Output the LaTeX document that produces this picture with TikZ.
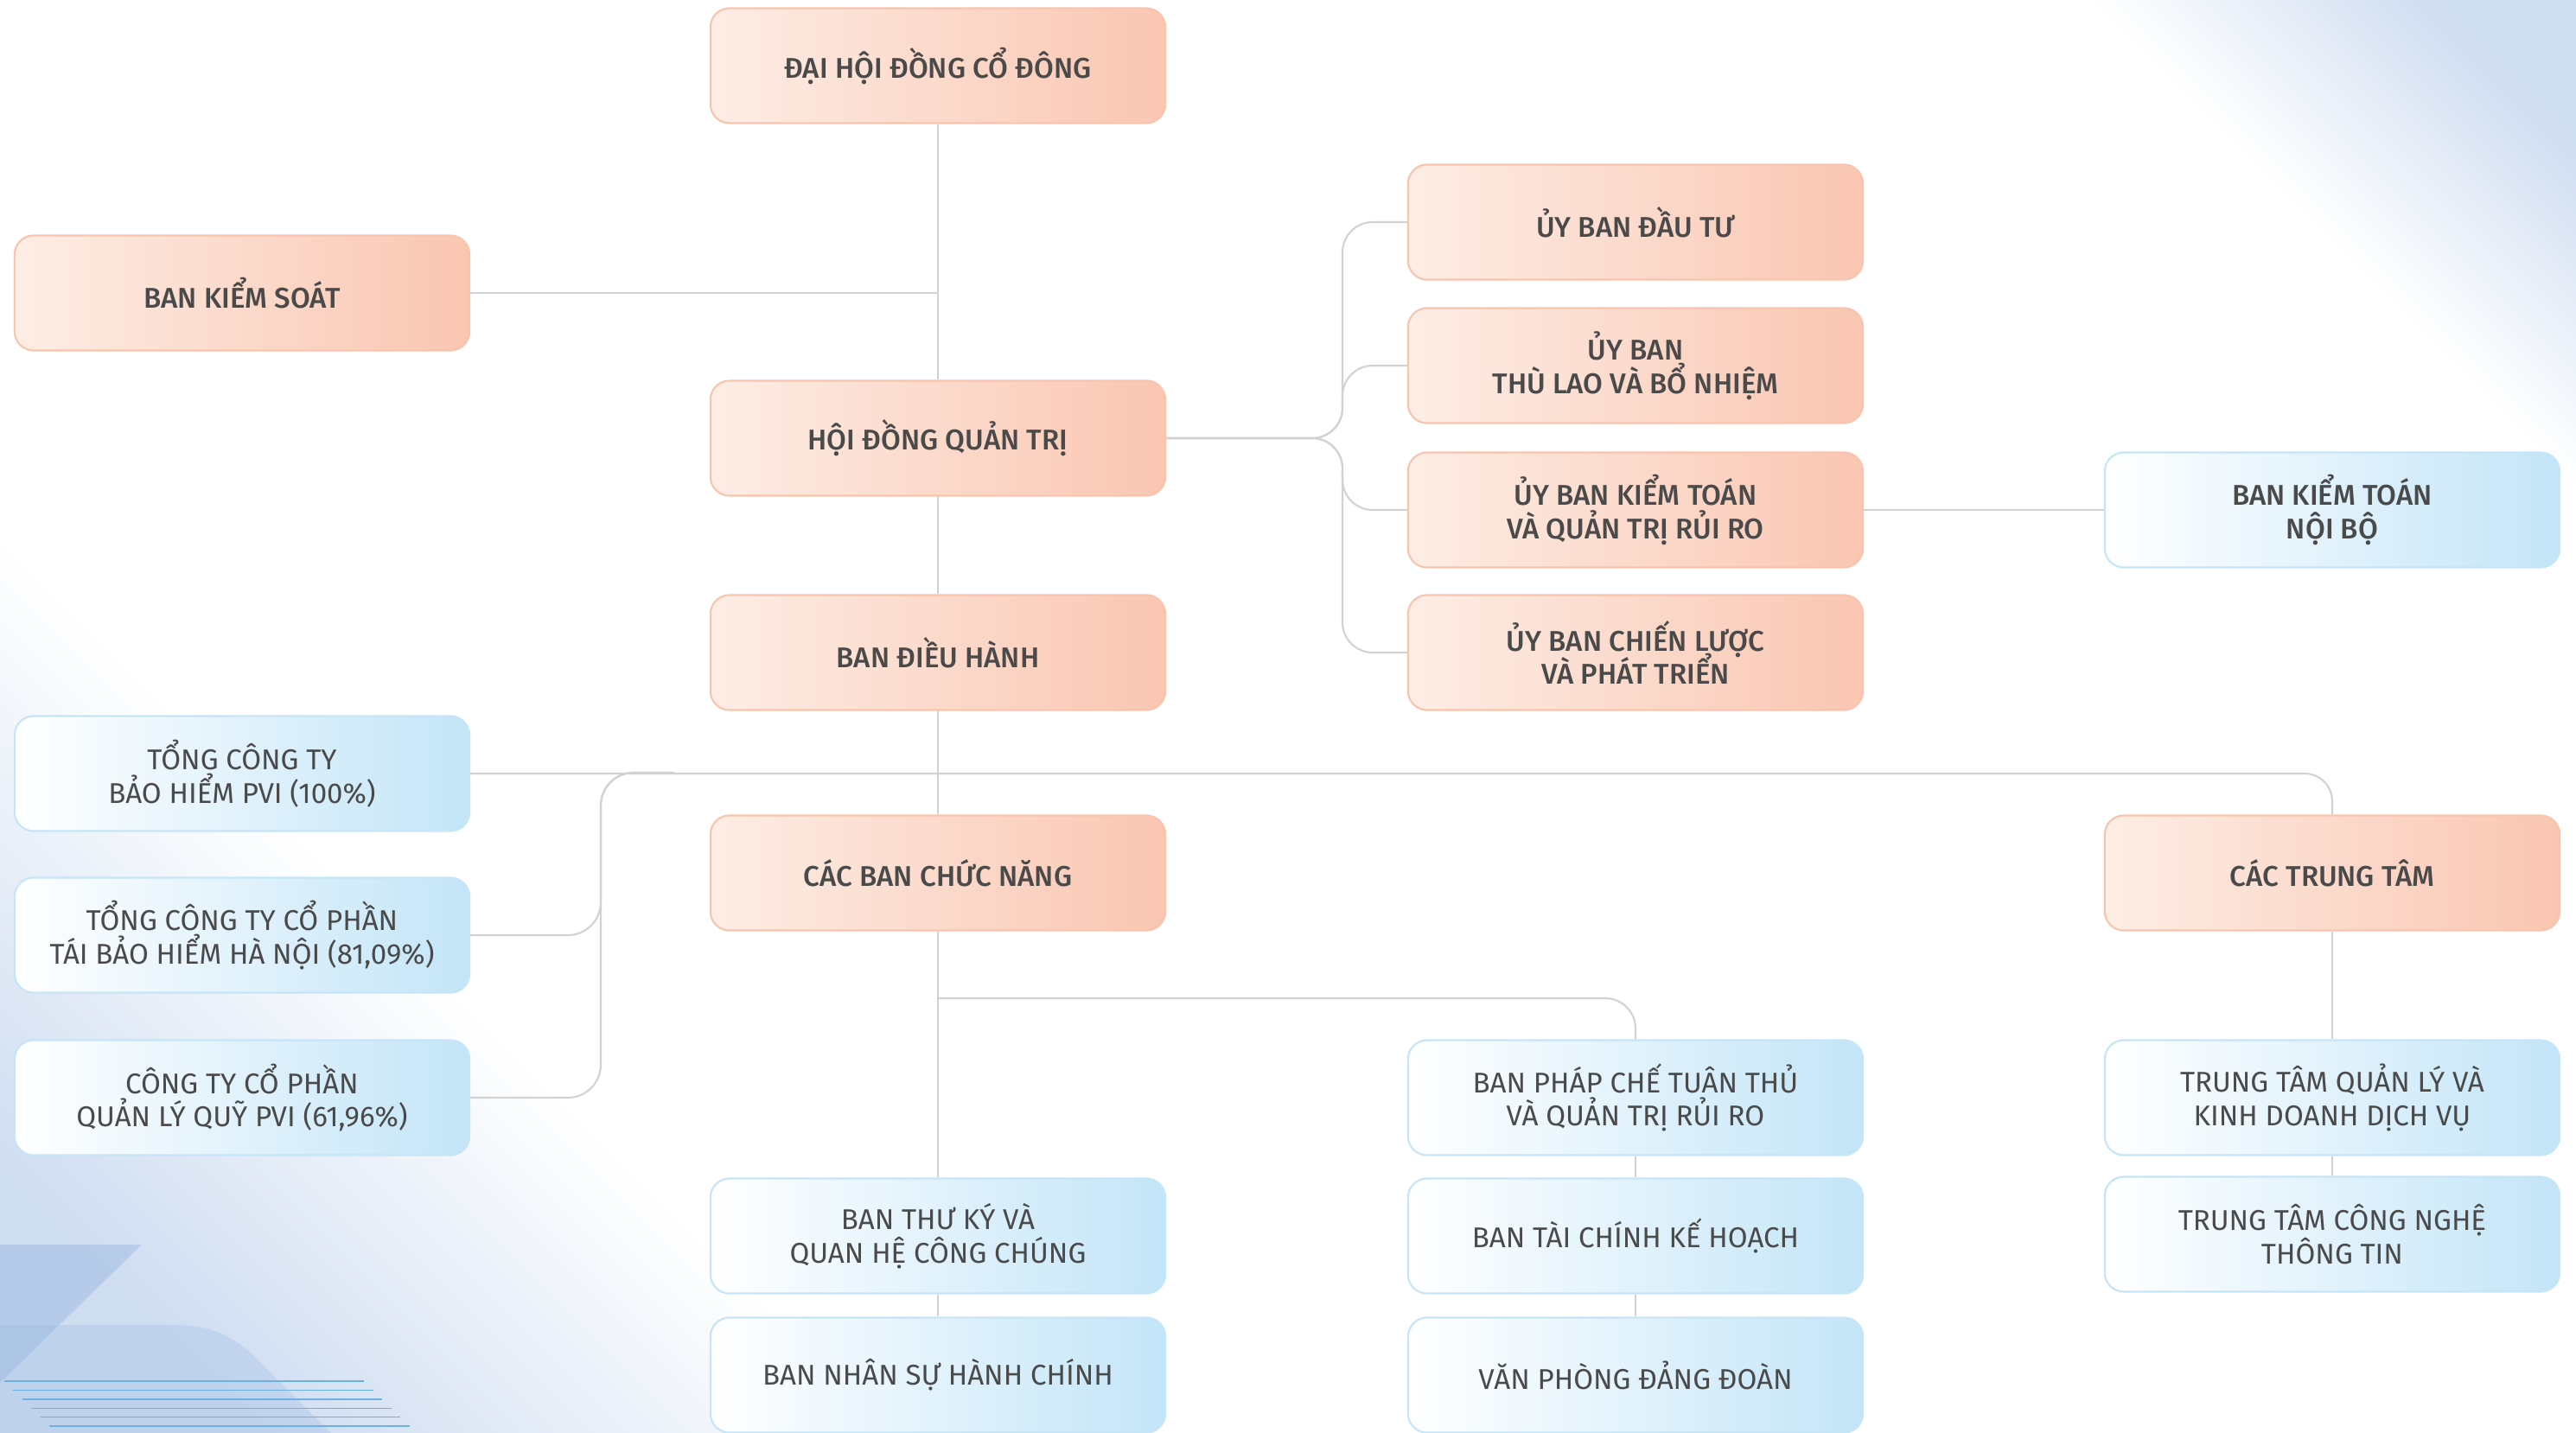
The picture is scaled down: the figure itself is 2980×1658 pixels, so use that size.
\documentclass[tikz,border=0pt]{standalone}
\usepackage{fontspec}
\setmainfont{Fira Sans}[BoldFont={Fira Sans Medium}]
\usetikzlibrary{positioning}
\definecolor{txtgray}{HTML}{4A4A4A}
\definecolor{linegray}{HTML}{D2D2D2}
\definecolor{orgL}{HTML}{FDEDE5}
\definecolor{orgR}{HTML}{FAC6B2}
\definecolor{orgB}{HTML}{F8C4AE}
\definecolor{bluL}{HTML}{FFFFFF}
\definecolor{bluR}{HTML}{C3E5F8}
\definecolor{bluB}{HTML}{C6E5F7}
\definecolor{bgblue}{HTML}{CFDDF1}
\definecolor{decoblue}{HTML}{9DBBE2}
\definecolor{stripe}{HTML}{6DB0E2}
\newcommand{\boxfont}{\fontsize{9.4}{11}\selectfont\lineskiplimit=-10pt\relax}
\tikzset{
  box/.style={rectangle, rounded corners=0.22cm, minimum width=5.26cm,
    minimum height=1.33cm, align=center, text=txtgray, line width=0.6pt,
    inner sep=2pt, font=\boxfont},
  orgbox/.style={box, draw=orgB, left color=orgL, right color=orgR,
    font=\boxfont\bfseries},
  bluebox/.style={box, draw=bluB, left color=bluL, right color=bluR},
  link/.style={draw=linegray, line width=0.6pt},
}
\begin{document}
\begin{tikzpicture}[x=0.01cm, y=-0.01cm]
      \useasboundingbox (0,0) rectangle (2980,1658);
      \fill[white] (0,0) rectangle (2980,1658);
      \shade[top color=bgblue, bottom color=white, middle color=white, shading angle=-45]
        (2415,0) -- (2980,0) -- (2980,565) -- cycle;
      \shade[top color=white, bottom color=bgblue, middle color=white, shading angle=-45]
        (0,620) -- (0,1658) -- (1038,1658) -- cycle;
      \fill[decoblue, opacity=0.5] (0,1440) -- (164,1440) -- (0,1600) -- cycle;
      \fill[decoblue, opacity=0.3] (0,1533) -- (200,1533)
        .. controls (245,1533) and (270,1545) .. (300,1575) -- (383,1658) -- (0,1658) -- cycle;
      \foreach \i in {0,...,5}
        \draw[stripe, line width=0.4pt] (5+10.4*\i,1598+10.4*\i) -- (421+10.6*\i,1598+10.4*\i);
      \draw
        (1085,76) node[orgbox] (dhdcd) {ĐẠI HỘI ĐỒNG CỔ ĐÔNG}
        (280,339) node[orgbox] (bks) {BAN KIỂM SOÁT}
        (1085,507) node[orgbox] (hdqt) {HỘI ĐỒNG QUẢN TRỊ}
        (1085,755) node[orgbox] (bdh) {BAN ĐIỀU HÀNH}
        (1085,1010) node[orgbox] (cbcn) {CÁC BAN CHỨC NĂNG}
        (1892,257) node[orgbox] (ubdt) {ỦY BAN ĐẦU TƯ}
        (1892,423) node[orgbox] (ubtl) {ỦY BAN\\THÙ LAO VÀ BỔ NHIỆM}
        (1892,590) node[orgbox] (ubkt) {ỦY BAN KIỂM TOÁN\\VÀ QUẢN TRỊ RỦI RO}
        (1892,755) node[orgbox] (ubcl) {ỦY BAN CHIẾN LƯỢC\\VÀ PHÁT TRIỂN}
        (2698,590) node[bluebox, font=\boxfont\bfseries] (bktnb) {BAN KIỂM TOÁN\\NỘI BỘ}
        (2698,1010) node[orgbox] (ctt) {CÁC TRUNG TÂM}
        (280,895) node[bluebox] (pvi) {TỔNG CÔNG TY\\BẢO HIỂM PVI (100\%)}
        (280,1082) node[bluebox] (taibh) {TỔNG CÔNG TY CỔ PHẦN\\TÁI BẢO HIỂM HÀ NỘI (81,09\%)}
        (280,1270) node[bluebox] (quy) {CÔNG TY CỔ PHẦN\\QUẢN LÝ QUỸ PVI (61,96\%)}
        (1892,1270) node[bluebox] (bpc) {BAN PHÁP CHẾ TUÂN THỦ\\VÀ QUẢN TRỊ RỦI RO}
        (1892,1430) node[bluebox] (btckh) {BAN TÀI CHÍNH KẾ HOẠCH}
        (1892,1591) node[bluebox] (vpdd) {VĂN PHÒNG ĐẢNG ĐOÀN}
        (1085,1430) node[bluebox] (btk) {BAN THƯ KÝ VÀ\\QUAN HỆ CÔNG CHÚNG}
        (1085,1591) node[bluebox] (bnshc) {BAN NHÂN SỰ HÀNH CHÍNH}
        (2698,1270) node[bluebox] (ttql) {TRUNG TÂM QUẢN LÝ VÀ\\KINH DOANH DỊCH VỤ}
        (2698,1428) node[bluebox] (ttcn) {TRUNG TÂM CÔNG NGHỆ\\THÔNG TIN};
      \coordinate (hb) at (1553,507);
      \coordinate (lb) at (695,894);
      \coordinate (gj) at (780,894);
      \coordinate (cj) at (1085,1155);
      \begin{scope}[link]
        \draw (dhdcd) to (hdqt);
        \draw (hdqt) to (bdh);
        \draw (bdh) to (cbcn);
        \draw (cbcn) to (btk);
        \draw (btk) to (bnshc);
        \draw (bks.east) to (bks.east -| dhdcd.south);
        \draw[rounded corners=0.35cm] (hdqt.east) -- (hb) |- (ubdt.west);
        \draw[rounded corners=0.35cm] (hdqt.east) -- (hb) |- (ubtl.west);
        \draw[rounded corners=0.35cm] (hdqt.east) -- (hb) |- (ubkt.west);
        \draw[rounded corners=0.35cm] (hdqt.east) -- (hb) |- (ubcl.west);
        \draw (ubkt) to (bktnb);
        \draw[rounded corners=0.32cm] (pvi.east) -| (ctt.north);
        \draw[rounded corners=0.38cm] (taibh.east) -| (lb) -- (gj);
        \draw[rounded corners=0.38cm] (quy.east) -| (lb) -- (gj);
        \draw[rounded corners=0.35cm] (cj) -| (bpc.north);
        \draw (bpc) to (btckh);
        \draw (btckh) to (vpdd);
        \draw (ctt) to (ttql);
        \draw (ttql) to (ttcn);
      \end{scope}
    \end{tikzpicture}
\end{document}
